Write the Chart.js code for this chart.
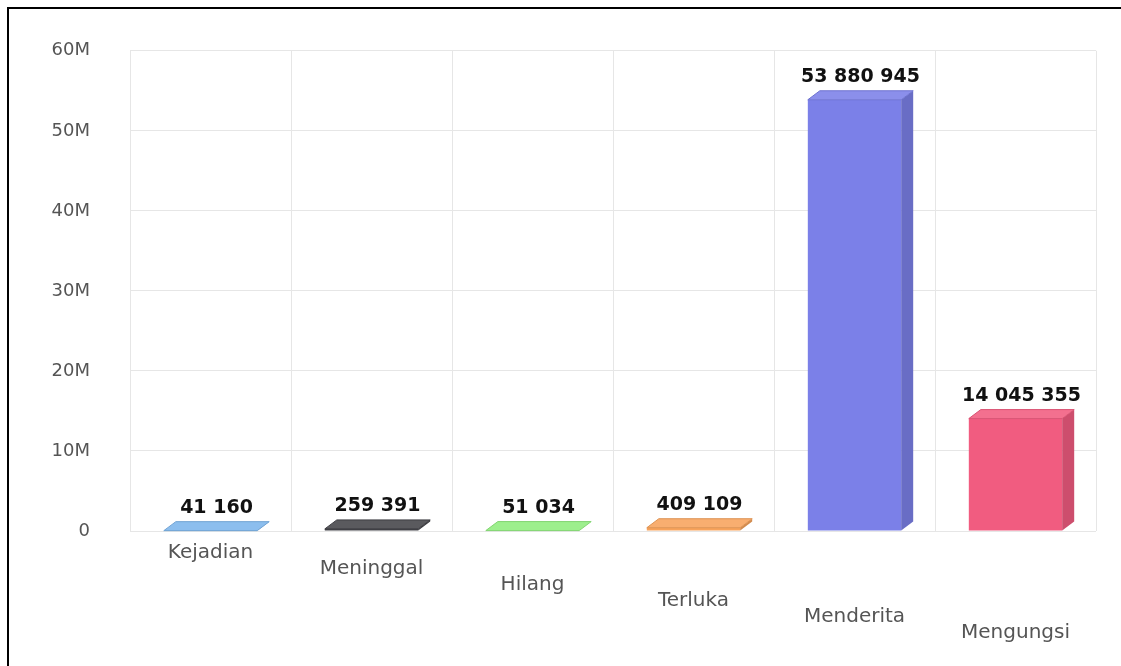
<!DOCTYPE html>
<html>
<head>
<meta charset="utf-8">
<script src="https://cdn.jsdelivr.net/npm/chart.js@4.4.1/dist/chart.umd.min.js"></script>
<style>
    html, body { margin: 0; padding: 0; background: #fff; }
    #frame {
        position: absolute; left: 7px; top: 7px; right: 0; bottom: 0;
        border-top: 2px solid #000; border-left: 2px solid #000;
    }
    #wrap { position: absolute; left: 0; top: 0; width: 1121px; height: 666px; }
</style>
</head>
<body>
<div id="frame"></div>
<div id="wrap"><canvas id="myChart"></canvas></div>
<script>
// data
var categories = ["Kejadian", "Meninggal", "Hilang", "Terluka", "Menderita", "Mengungsi"];
var values = [41160, 259391, 51034, 409109, 53880945, 14045355];
var barColors = ["#7cb5ec", "#434348", "#90ed7d", "#f7a35c", "#7b80e8", "#f15c80"];
var yTicks = [0, 10000000, 20000000, 30000000, 40000000, 50000000, 60000000];
var yTickLabels = ["0", "10M", "20M", "30M", "40M", "50M", "60M"];

var DEPTH_X = 12;
var DEPTH_Y = 9;

function spaced(n) {
    return n.toString().replace(/\B(?=(\d{3})+(?!\d))/g, " ");
}

function shade(hex, f) {
    let r = parseInt(hex.substr(1, 2), 16);
    let g = parseInt(hex.substr(3, 2), 16);
    let b = parseInt(hex.substr(5, 2), 16);
    if (f > 0) {
        r = r + (255 - r) * f; g = g + (255 - g) * f; b = b + (255 - b) * f;
    } else {
        r = r * (1 + f); g = g * (1 + f); b = b * (1 + f);
    }
    return "rgb(" + Math.round(r) + "," + Math.round(g) + "," + Math.round(b) + ")";
}

// fake 3d faces + value labels on top of each bar
var bar3d = {
    id: "bar3d",
    afterDatasetsDraw: function (chart) {
        let ctx = chart.ctx;
        let meta = chart.getDatasetMeta(0);
        meta.data.forEach(function (bar, i) {
            let left = bar.x - bar.width / 2;
            let right = bar.x + bar.width / 2;
            let top = bar.y;
            let base = bar.base;
            let col = barColors[i];
            ctx.save();
            // side
            ctx.beginPath();
            ctx.moveTo(right, top);
            ctx.lineTo(right + DEPTH_X, top - DEPTH_Y);
            ctx.lineTo(right + DEPTH_X, base - DEPTH_Y);
            ctx.lineTo(right, base);
            ctx.closePath();
            ctx.fillStyle = shade(col, -0.15);
            ctx.fill();
            // top
            ctx.beginPath();
            ctx.moveTo(left, top);
            ctx.lineTo(right, top);
            ctx.lineTo(right + DEPTH_X, top - DEPTH_Y);
            ctx.lineTo(left + DEPTH_X, top - DEPTH_Y);
            ctx.closePath();
            ctx.fillStyle = shade(col, 0.12);
            ctx.fill();
            ctx.strokeStyle = shade(col, -0.1);
            ctx.lineWidth = 1;
            ctx.stroke();
            // value
            ctx.fillStyle = "#111";
            ctx.font = "600 19px 'DejaVu Sans'";
            ctx.textAlign = "center";
            ctx.textBaseline = "bottom";
            ctx.fillText(spaced(values[i]), bar.x + DEPTH_X / 2, top - DEPTH_Y - 4);
            ctx.restore();
        });
    }
};

new Chart("myChart", {
    type: "bar",
    data: {
        labels: categories,
        datasets: [{
            data: values,
            backgroundColor: barColors,
            borderWidth: 0,
            barPercentage: 0.58,
            categoryPercentage: 1
        }]
    },
    options: {
        responsive: true,
        maintainAspectRatio: false,
        animation: false,
        layout: { padding: { top: 34, right: 25, bottom: 0, left: 0 } },
        plugins: {
            legend: { display: false },
            tooltip: { enabled: false }
        },
        scales: {
            x: {
                grid: { color: "#e6e6e6", drawTicks: false, offset: true },
                border: { display: false },
                afterFit: function (scale) { scale.height = 135; },
                ticks: {
                    color: "#555",
                    font: { family: "DejaVu Sans", size: 20, lineHeight: 0.8 },
                    padding: 14,
                    maxRotation: 0,
                    autoSkip: false,
                    callback: function (val, idx) {
                        let lines = [];
                        for (let k = 0; k < idx; k++) lines.push("");
                        lines.push(categories[idx]);
                        return lines;
                    }
                }
            },
            y: {
                min: 0,
                max: 60000000,
                afterFit: function (scale) { scale.width = 130; },
                afterBuildTicks: function (scale) {
                    scale.ticks = yTicks.map(function (v) { return { value: v }; });
                },
                grid: { color: "#e6e6e6", drawTicks: false },
                border: { display: false },
                ticks: {
                    color: "#555",
                    font: { family: "DejaVu Sans", size: 18 },
                    padding: 40,
                    callback: function (val) {
                        return yTickLabels[yTicks.indexOf(val)];
                    }
                }
            }
        }
    },
    plugins: [bar3d]
});
</script>
</body>
</html>
